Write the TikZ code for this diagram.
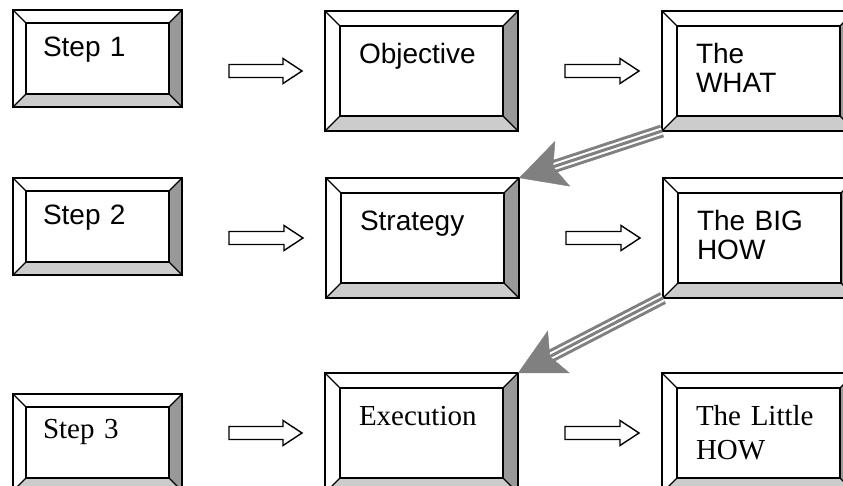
\documentclass[tikz,border=0pt]{standalone}
\usepackage{fontspec}
\setmainfont{Liberation Sans}
\newfontfamily\timesfont{Liberation Serif}
\usetikzlibrary{calc,arrows.meta}
\definecolor{myDarkGray}{RGB}{153, 153, 153}
\definecolor{myLightGray}{RGB}{204, 204, 204}
\definecolor{myArrowGray}{RGB}{128, 128, 128}

% bevel of a key box, #1 = bevel size
\newcommand{\keybevel}[1]{%
	\fill[myDarkGray] (path picture bounding box.north east) -- ([shift={(-#1,-#1)}]path picture bounding box.north east) -- ([shift={(-#1,#1)}]path picture bounding box.south east) -- (path picture bounding box.south east) -- cycle;
	\fill[myLightGray] (path picture bounding box.south west) -- ([shift={(#1,#1)}]path picture bounding box.south west) -- ([shift={(-#1,#1)}]path picture bounding box.south east) -- (path picture bounding box.south east) -- cycle;
	\draw[line width=1.2pt] ([shift={(#1,-#1)}]path picture bounding box.north west) rectangle ([shift={(-#1,#1)}]path picture bounding box.south east);
	\draw[line width=1.2pt] (path picture bounding box.north west) -- ++(#1,-#1)
		(path picture bounding box.north east) -- ++(-#1,-#1)
		(path picture bounding box.south west) -- ++(#1,#1)
		(path picture bounding box.south east) -- ++(-#1,#1);
}

\tikzset{
	keybox/.style={draw, line width=1.5pt, rectangle, anchor=north west, outer sep=0pt, inner ysep=0pt, align=left, path picture={\keybevel{#1}}},
	smallkey/.style={keybox=13pt, inner xsep=30pt, text width=109pt, text height=47pt, text depth=50pt, font=\fontsize{28}{29}\selectfont},
	bigkey/.style={keybox=15pt, inner xsep=34pt, text width=125pt, text height=53pt, text depth=67pt, font=\fontsize{28}{29}\selectfont},
	timeskey/.style={font=\timesfont\fontsize{29}{34}\selectfont},
	blockarrow/.style={draw, line width=1.4pt, fill=white, to path={
		let \p1=(\tikztostart), \p2=(\tikztotarget) in
		(\x1+47pt,\y2+6.5pt) -- (\x2-42pt,\y2+6.5pt) -- (\x2-42pt,\y2+12.5pt) -- (\x2-23pt,\y2)
		-- (\x2-42pt,\y2-12.5pt) -- (\x2-42pt,\y2-6.5pt) -- (\x1+47pt,\y2-6.5pt) -- cycle}},
	tripleline/.style={draw=myArrowGray, line width=3pt, double=white, double distance=7pt, shorten >=32pt},
	triplemid/.style={draw=myArrowGray, line width=3pt, shorten >=32pt},
	tripletip/.style={draw=myArrowGray, line width=0.4pt, -{Stealth[length=46pt, width=48pt, inset=10pt]}}
}

\begin{document}
\begin{tikzpicture}[x=1pt, y=-1pt]
				\useasboundingbox (0,0) rectangle (843,486);
				\draw (13,10) node[smallkey] (step1) {Step 1};
				\draw (325,11) node[bigkey] (objective) {Objective};
				\draw (662,11) node[bigkey] (what) {The\\WHAT};
				\draw (13,178) node[smallkey] (step2) {Step 2};
				\draw (326,178) node[bigkey] (strategy) {Strategy};
				\draw (663,178) node[bigkey] (bighow) {The BIG\\HOW};
				\draw (13,394) node[smallkey, timeskey, text height=44pt, text depth=53pt] (step3) {Step 3};
				\draw (325,373) node[bigkey, timeskey, text height=52pt, text depth=68pt] (execution) {Execution};
				\draw (662,373) node[bigkey, timeskey, text height=52pt, text depth=68pt] (littlehow) {The Little\\HOW};

				\path
				(step1.east) edge[blockarrow] (objective.west)
				(objective.east) edge[blockarrow] (what.west)
				(step2.east) edge[blockarrow] (strategy.west)
				(strategy.east) edge[blockarrow] (bighow.west)
				(step3.east) edge[blockarrow] (execution.west)
				(execution.east) edge[blockarrow] (littlehow.west)
				;
				\path
				(what.south west) edge[tripleline] (strategy.north east)
					edge[triplemid] (strategy.north east)
					edge[tripletip] (strategy.north east)
				(bighow.south west) edge[tripleline] (execution.north east)
					edge[triplemid] (execution.north east)
					edge[tripletip] (execution.north east)
				;
			\end{tikzpicture}
\end{document}
